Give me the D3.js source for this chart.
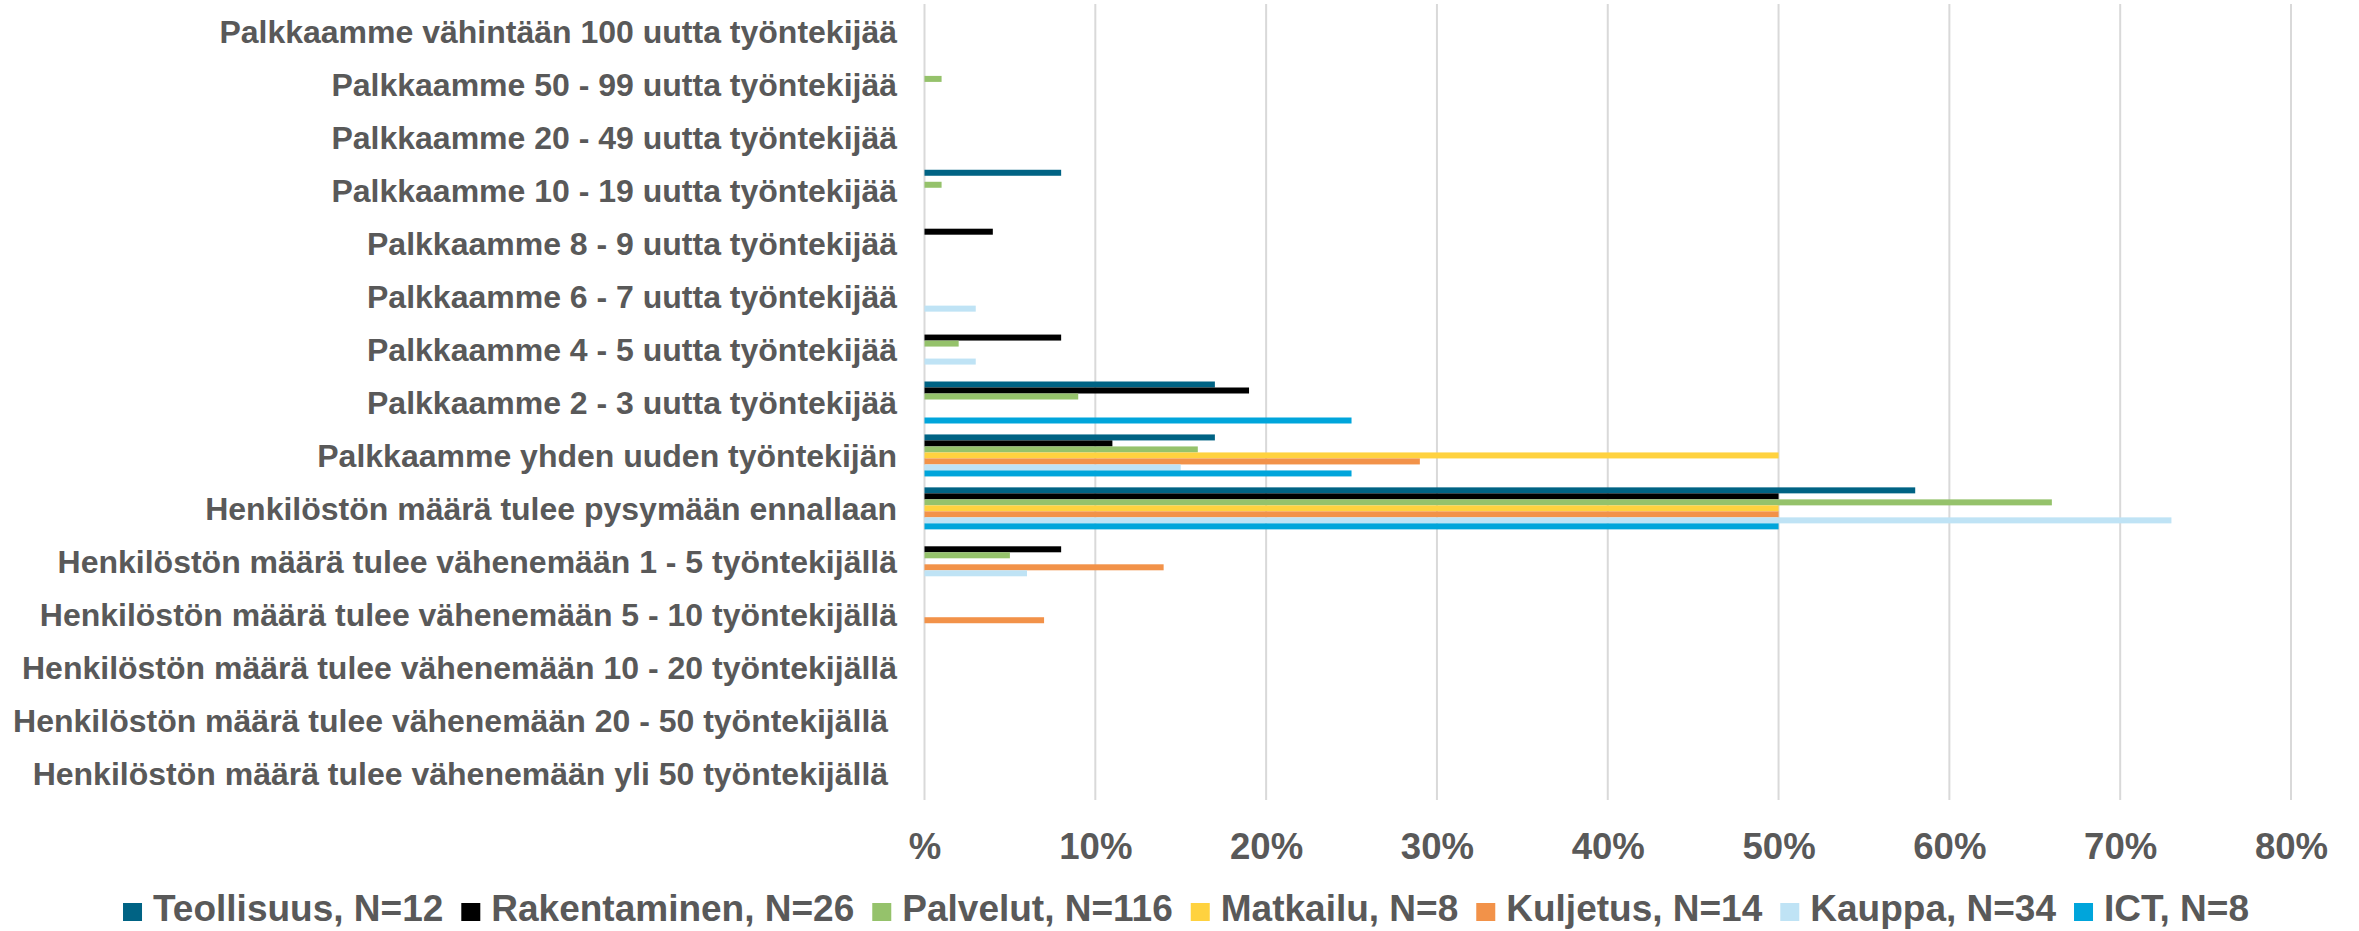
<!DOCTYPE html>
<html>
<head>
<meta charset="utf-8">
<script src="https://cdn.jsdelivr.net/npm/d3@7"></script>
<style>
  html, body { margin: 0; padding: 0; background: #fff; }
  svg text { font-family: "Liberation Sans", Arial, sans-serif; font-weight: bold; fill: #595959; white-space: pre; }
</style>
</head>
<body>
<svg id="chart" width="2359" height="931"></svg>
<script>
const categories = [
  "Palkkaamme vähintään 100 uutta työntekijää",
  "Palkkaamme 50 - 99 uutta työntekijää",
  "Palkkaamme 20 - 49 uutta työntekijää",
  "Palkkaamme 10 - 19 uutta työntekijää",
  "Palkkaamme 8 - 9 uutta työntekijää",
  "Palkkaamme 6 - 7 uutta työntekijää",
  "Palkkaamme 4 - 5 uutta työntekijää",
  "Palkkaamme 2 - 3 uutta työntekijää",
  "Palkkaamme yhden uuden työntekijän",
  "Henkilöstön määrä tulee pysymään ennallaan",
  "Henkilöstön määrä tulee vähenemään 1 - 5 työntekijällä",
  "Henkilöstön määrä tulee vähenemään 5 - 10 työntekijällä",
  "Henkilöstön määrä tulee vähenemään 10 - 20 työntekijällä",
  "Henkilöstön määrä tulee vähenemään 20 - 50 työntekijällä ",
  "Henkilöstön määrä tulee vähenemään yli 50 työntekijällä "
];
const seriesNames = ["Teollisuus, N=12", "Rakentaminen, N=26", "Palvelut, N=116", "Matkailu, N=8", "Kuljetus, N=14", "Kauppa, N=34", "ICT, N=8"];
const seriesColors = ["#006384", "#000000", "#95C26B", "#FFD23F", "#F29249", "#BFE3F5", "#00A5DB"];

const teollisuus   = [0, 0, 0, 8, 0, 0, 0, 17, 17, 58, 0, 0, 0, 0, 0];
const rakentaminen = [0, 0, 0, 0, 4, 0, 8, 19, 11, 50, 8, 0, 0, 0, 0];
const palvelut     = [0, 1, 0, 1, 0, 0, 2, 9, 16, 66, 5, 0, 0, 0, 0];
const matkailu     = [0, 0, 0, 0, 0, 0, 0, 0, 50, 50, 0, 0, 0, 0, 0];
const kuljetus     = [0, 0, 0, 0, 0, 0, 0, 0, 29, 50, 14, 7, 0, 0, 0];
const kauppa       = [0, 0, 0, 0, 0, 3, 3, 0, 15, 73, 6, 0, 0, 0, 0];
const ict          = [0, 0, 0, 0, 0, 0, 0, 25, 25, 50, 0, 0, 0, 0, 0];

const xTicks = [0, 10, 20, 30, 40, 50, 60, 70, 80];
const xTickLabels = ["%", "10%", "20%", "30%", "40%", "50%", "60%", "70%", "80%"];

const seriesValues = [teollisuus, rakentaminen, palvelut, matkailu, kuljetus, kauppa, ict];

const svg = d3.select("#chart");
const plotTop = 4, plotBottom = 800;

const x = d3.scaleLinear().domain([0, 80]).range([924.5, 2291]);
const y = d3.scaleBand().domain(d3.range(categories.length)).range([5.5, 799.5]).paddingInner(0.2065).paddingOuter(0.1033);
const ySub = d3.scaleBand().domain(d3.range(seriesNames.length)).range([0, y.bandwidth()]);

// gridlines
svg.append("g").selectAll("line").data(xTicks).join("line")
  .attr("x1", d => x(d)).attr("x2", d => x(d))
  .attr("y1", plotTop).attr("y2", plotBottom)
  .attr("stroke", "#D9D9D9").attr("stroke-width", 2);

// bars
const groups = svg.append("g").selectAll("g").data(categories).join("g")
  .attr("transform", (d, i) => `translate(0,${y(i)})`);
groups.selectAll("rect")
  .data((d, i) => seriesValues.map((vals, s) => ({ s, v: vals[i] })).filter(o => o.v > 0))
  .join("rect")
  .attr("x", x(0))
  .attr("y", o => ySub(o.s))
  .attr("width", o => x(o.v) - x(0))
  .attr("height", ySub.bandwidth())
  .attr("fill", o => seriesColors[o.s]);

// category labels
svg.append("g").selectAll("text").data(categories).join("text")
  .attr("x", 897)
  .attr("y", (d, i) => y(i) + y.bandwidth() / 2)
  .attr("dy", "0.36em")
  .attr("text-anchor", "end")
  .style("font-size", "32px")
  .text(d => d);

// x axis labels
const xAxis = d3.axisBottom(x).tickValues(xTicks).tickSize(0).tickPadding(0)
  .tickFormat((d, i) => xTickLabels[i]);
const ax = svg.append("g").attr("transform", `translate(0,${859})`).call(xAxis);
ax.select(".domain").remove();
ax.selectAll("text").attr("dy", 0).attr("y", 0)
  .style("font-size", "36.6px").style("font-family", "'Liberation Sans', Arial, sans-serif")
  .style("font-weight", "bold").attr("fill", "#595959");

// legend
const legend = svg.append("g");
const items = legend.selectAll("g").data(seriesNames).join("g");
items.append("rect").attr("width", 19).attr("height", 18).attr("y", 903)
  .attr("fill", (d, i) => seriesColors[i]);
items.append("text").attr("x", 30).attr("y", 921).style("font-size", "37px").text(d => d);
let widths = [];
items.each(function () { widths.push(30 + this.querySelector("text").getComputedTextLength()); });
const gap = 18;
const total = d3.sum(widths) + gap * (widths.length - 1);
let cx = 1186 - total / 2;
items.each(function (d, i) {
  d3.select(this).attr("transform", `translate(${cx},0)`);
  cx += widths[i] + gap;
});
</script>
</body>
</html>
